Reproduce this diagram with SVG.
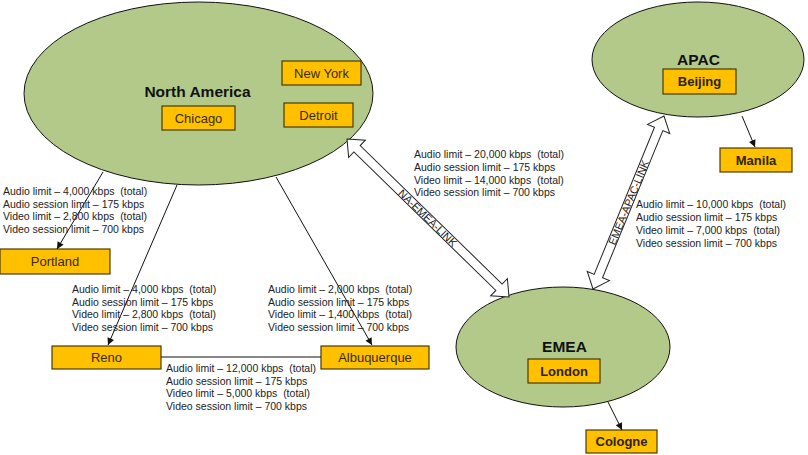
<svg xmlns="http://www.w3.org/2000/svg" width="808" height="455" viewBox="0 0 808 455" xml:space="preserve">
<defs>
<style>
.region{fill:#B3C98A;stroke:#111;stroke-width:1}
.box{fill:#FFC000;stroke:#4a3b00;stroke-width:1.2}
.title{font-family:"Liberation Sans",Arial,sans-serif;font-weight:bold;font-size:15.5px;fill:#111;text-anchor:middle}
.city{font-family:"Liberation Sans",Arial,sans-serif;font-size:13px;fill:#3b2a00;text-anchor:middle}
.cityb{font-family:"Liberation Sans",Arial,sans-serif;font-size:13px;font-weight:bold;fill:#2e2200;text-anchor:middle}
.lbl{font-family:"Liberation Sans",Arial,sans-serif;font-size:10.5px;fill:#222;white-space:pre}
.conn{stroke:#111;stroke-width:1;fill:none}
.link{fill:#fff;stroke:#222;stroke-width:1}
.linktxt{font-family:"Liberation Sans",Arial,sans-serif;font-size:10.8px;fill:#222;text-anchor:middle}
</style>
<marker id="ah" viewBox="0 0 10 10" refX="10" refY="5" markerWidth="9" markerHeight="7" markerUnits="userSpaceOnUse" orient="auto">
<path d="M0,0 L10,5 L0,10 Z" fill="#111"/>
</marker>
</defs>

<g id="north-america">
<ellipse class="region" cx="198.5" cy="93.5" rx="174.5" ry="91.5"/>
<text class="title" x="197.5" y="97">North America</text>
</g>
<g id="new-york"><rect class="box" x="282" y="61" width="79" height="24"/><text class="city" x="321.5" y="77.6">New York</text></g>
<g id="detroit"><rect class="box" x="284" y="103" width="69" height="24"/><text class="city" x="318.5" y="119.6">Detroit</text></g>
<g id="chicago"><rect class="box" x="162" y="106" width="73" height="24"/><text class="city" x="198.5" y="122.6">Chicago</text></g>

<g id="apac">
<ellipse class="region" cx="698" cy="59.5" rx="106" ry="57.5"/>
<text class="title" x="698.5" y="65">APAC</text>
</g>
<g id="beijing"><rect class="box" x="663" y="69" width="73" height="25"/><text class="cityb" x="699.5" y="86">Beijing</text></g>

<g id="emea">
<ellipse class="region" cx="563" cy="347" rx="107" ry="60"/>
<text class="title" x="564.5" y="352">EMEA</text>
</g>
<g id="london"><rect class="box" x="528" y="359" width="72" height="24"/><text class="cityb" x="564" y="375.6">London</text></g>

<g id="portland"><rect class="box" x="0" y="249" width="110" height="25"/><text class="city" x="55" y="266">Portland</text></g>
<g id="reno"><rect class="box" x="52" y="346" width="109" height="23"/><text class="city" x="106.5" y="362.2">Reno</text></g>
<g id="albuquerque"><rect class="box" x="321" y="346" width="108" height="23"/><text class="city" x="375" y="362.2">Albuquerque</text></g>
<g id="manila"><rect class="box" x="720" y="148" width="72" height="24"/><text class="cityb" x="756" y="164.6">Manila</text></g>
<g id="cologne"><rect class="box" x="586" y="430" width="71" height="23"/><text class="cityb" x="621.5" y="446.2">Cologne</text></g>

<g id="connectors">
<line class="conn" x1="103" y1="172" x2="57" y2="249" marker-end="url(#ah)"/>
<line class="conn" x1="177" y1="185" x2="108" y2="345" marker-end="url(#ah)"/>
<line class="conn" x1="276" y1="177" x2="372" y2="345" marker-end="url(#ah)"/>
<line class="conn" x1="161" y1="357" x2="321" y2="357" stroke-width="2"/>
<line class="conn" x1="608" y1="402" x2="622" y2="430" marker-end="url(#ah)"/>
<line class="conn" x1="742" y1="116" x2="755" y2="147" marker-end="url(#ah)"/>

<g id="na-emea-link" transform="translate(347,139) rotate(44.28)">
<polygon class="link" points="0,0 14,-12 14,-4.5 212.3,-4.5 212.3,-12 226.3,0 212.3,12 212.3,4.5 14,4.5 14,12"/>
<text class="linktxt" x="113" y="4">NA-EMEA-LINK</text>
</g>
<g id="emea-apac-link" transform="translate(593,289) rotate(-67.69)">
<polygon class="link" points="0,0 14,-12 14,-4.5 173,-4.5 173,-12 187,0 173,12 173,4.5 14,4.5 14,12"/>
<text class="linktxt" x="93.5" y="4" font-size="10.4">EMEA-APAC-LINK</text>
</g>
</g>

<g id="labels">
<text class="lbl" x="3" y="195">Audio limit – 4,000 kbps  (total)</text>
<text class="lbl" x="3" y="207.5">Audio session limit – 175 kbps</text>
<text class="lbl" x="3" y="220">Video limit – 2,800 kbps  (total)</text>
<text class="lbl" x="3" y="232.5">Video session limit – 700 kbps</text>

<text class="lbl" x="72" y="293">Audio limit – 4,000 kbps  (total)</text>
<text class="lbl" x="72" y="305.5">Audio session limit – 175 kbps</text>
<text class="lbl" x="72" y="318">Video limit – 2,800 kbps  (total)</text>
<text class="lbl" x="72" y="330.5">Video session limit – 700 kbps</text>

<text class="lbl" x="268" y="293">Audio limit – 2,000 kbps  (total)</text>
<text class="lbl" x="268" y="305.5">Audio session limit – 175 kbps</text>
<text class="lbl" x="268" y="318">Video limit – 1,400 kbps  (total)</text>
<text class="lbl" x="268" y="330.5">Video session limit – 700 kbps</text>

<text class="lbl" x="166" y="372">Audio limit – 12,000 kbps  (total)</text>
<text class="lbl" x="166" y="384.5">Audio session limit – 175 kbps</text>
<text class="lbl" x="166" y="397">Video limit – 5,000 kbps  (total)</text>
<text class="lbl" x="166" y="409.5">Video session limit – 700 kbps</text>

<text class="lbl" x="414" y="157.5">Audio limit – 20,000 kbps  (total)</text>
<text class="lbl" x="414" y="170.5">Audio session limit – 175 kbps</text>
<text class="lbl" x="414" y="183.5">Video limit – 14,000 kbps  (total)</text>
<text class="lbl" x="414" y="196">Video session limit – 700 kbps</text>

<text class="lbl" x="636" y="208">Audio limit – 10,000 kbps  (total)</text>
<text class="lbl" x="636" y="221">Audio session limit – 175 kbps</text>
<text class="lbl" x="636" y="234">Video limit – 7,000 kbps  (total)</text>
<text class="lbl" x="636" y="247">Video session limit – 700 kbps</text>
</g>
</svg>
